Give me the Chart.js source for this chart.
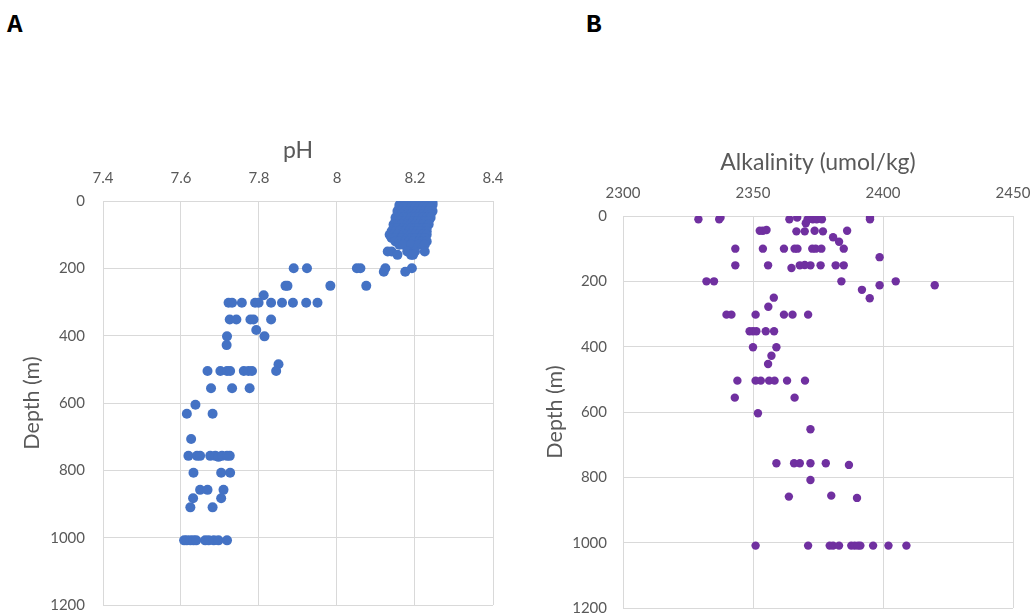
<!DOCTYPE html>
<html>
<head>
<meta charset="utf-8">
<script src="https://cdn.jsdelivr.net/npm/chart.js@4.4.1/dist/chart.umd.min.js"></script>
<style>
  body { margin: 0; background: #fff; width: 1031px; height: 614px; position: relative; overflow: hidden; }
  canvas { position: absolute; top: 0; }
  .tag { position: absolute; font: bold 26px "Liberation Mono", monospace; line-height: 26px; color: #000; }
</style>
</head>
<body>
<div class="tag" style="left:7px; top:12px;">A</div>
<div class="tag" style="left:586px; top:12px;">B</div>
<canvas id="phChart" width="515" height="614" style="left:0"></canvas>
<canvas id="alkChart" width="516" height="614" style="left:515px"></canvas>
<script>
// ===== DATA =====
const phTicks = [7.4, 7.6, 7.8, 8, 8.2, 8.4];
const alkTicks = [2300, 2350, 2400, 2450];
const depthTicks = [0, 200, 400, 600, 800, 1000, 1200];

// [pH, depth m]
const phPoints = [
  [8.165,5],[8.175,5],[8.185,5],[8.195,5],[8.205,5],[8.215,5],[8.225,5],[8.235,5],[8.245,5],
  [8.16,12],[8.17,12],[8.18,12],[8.19,12],[8.2,12],[8.21,12],[8.22,12],[8.23,12],[8.24,12],[8.245,12],
  [8.16,20],[8.17,20],[8.18,20],[8.19,20],[8.2,20],[8.21,20],[8.22,20],[8.23,20],[8.24,20],
  [8.155,30],[8.165,30],[8.175,30],[8.185,30],[8.195,30],[8.205,30],[8.215,30],[8.225,30],[8.235,30],[8.245,30],
  [8.155,40],[8.165,40],[8.18,40],[8.19,40],[8.2,40],[8.21,40],[8.22,40],[8.23,40],[8.24,40],
  [8.15,50],[8.16,50],[8.17,50],[8.18,50],[8.19,50],[8.2,50],[8.21,50],[8.22,50],[8.23,50],[8.24,50],
  [8.15,60],[8.16,60],[8.175,60],[8.185,60],[8.195,60],[8.205,60],[8.215,60],[8.225,60],[8.235,60],
  [8.145,70],[8.155,70],[8.165,70],[8.18,70],[8.19,70],[8.2,70],[8.21,70],[8.22,70],[8.235,70],
  [8.145,80],[8.155,80],[8.17,80],[8.18,80],[8.19,80],[8.2,80],[8.21,80],[8.22,80],[8.23,80],
  [8.14,90],[8.15,90],[8.16,90],[8.175,90],[8.185,90],[8.195,90],[8.205,90],[8.215,90],[8.23,90],
  [8.135,100],[8.145,100],[8.155,100],[8.17,100],[8.18,100],[8.19,100],[8.2,100],[8.21,100],[8.22,100],[8.23,100],
  [8.14,110],[8.15,110],[8.165,110],[8.18,110],[8.19,110],[8.2,110],[8.215,110],[8.225,110],
  [8.15,120],[8.16,120],[8.175,120],[8.185,120],[8.195,120],[8.21,120],[8.22,120],[8.23,120],
  [8.16,130],[8.17,130],[8.19,130],[8.21,130],[8.225,130],
  [8.13,150],[8.14,150],[8.18,150],[8.2,150],[8.225,150],
  [8.155,160],[8.19,160],[8.195,160],
  [7.889,200],[7.923,200],[8.051,200],[8.06,200],[8.124,200],[8.192,200],[8.12,210],[8.175,210],
  [7.868,252],[7.873,252],[7.983,252],[8.075,252],
  [7.812,280],
  [7.722,302],[7.731,302],[7.756,302],[7.79,302],[7.799,302],[7.831,302],[7.859,302],[7.887,302],[7.921,302],[7.95,302],
  [7.725,352],[7.742,352],[7.778,352],[7.786,352],[7.831,352],
  [7.793,383],[7.718,402],[7.814,402],[7.717,428],[7.85,485],
  [7.668,505],[7.701,505],[7.718,505],[7.726,505],[7.761,505],[7.773,505],[7.782,505],[7.844,505],
  [7.677,556],[7.731,556],[7.776,556],
  [7.637,605],[7.615,632],[7.681,632],[7.626,707],
  [7.619,757],[7.641,757],[7.649,757],[7.675,757],[7.688,757],[7.696,760],[7.705,757],[7.718,757],[7.725,757],
  [7.632,807],[7.703,807],[7.726,807],
  [7.649,858],[7.668,858],[7.709,858],
  [7.631,883],[7.703,883],[7.624,910],[7.681,910],
  [7.608,1008],[7.615,1008],[7.624,1008],[7.632,1008],[7.639,1008],[7.662,1008],[7.671,1008],[7.684,1008],[7.696,1008],[7.718,1008]
];

// [alkalinity umol/kg, depth m]
const alkPoints = [
  [2329,10],[2337,10],[2337.5,5],[2364,10],[2367,5],[2371,10],[2372,7],[2373,10],[2374.5,10],[2376.5,10],[2395,5],[2395,10],
  [2370.3,22],
  [2352.6,45],[2353.8,45],[2355.2,43],[2366.7,47],[2369.9,47],[2373.7,45],[2376.9,47],[2386.2,45],
  [2380.8,65],[2383.1,79],
  [2343.2,100],[2353.8,100],[2361.9,100],[2366,100],[2367.1,100],[2372.8,100],[2374.1,100],[2376.3,100],[2384.9,100],
  [2398.7,126],
  [2343.2,151],[2355.8,151],[2368,151],[2369.9,150],[2372.1,151],[2376,151],[2381.8,151],[2384.9,151],
  [2364.8,159],
  [2332.1,200],[2335,200],[2384,200],[2404.9,200],[2398.7,212],[2419.9,212],
  [2391.9,226],[2394.9,252],[2358,250],[2355.9,278],
  [2339.8,302],[2341.7,302],[2351,302],[2361.9,302],[2365.2,302],[2371.2,302],
  [2348.7,353],[2350,353],[2351.3,353],[2354.9,353],[2358.1,353],
  [2350,402],[2359,402],[2357.1,428],[2355.8,453],
  [2344,504],[2351,504],[2353,504],[2356.2,504],[2358.3,504],[2363.1,504],[2370,504],
  [2343,556],[2366,556],[2351.9,604],[2372.1,653],
  [2359,757],[2365.8,757],[2368,757],[2372.1,757],[2378,757],[2386.9,762],
  [2372.1,808],[2380.1,856],[2363.8,859],[2390,863],
  [2351,1009],[2371.2,1009],[2379.5,1009],[2380.8,1009],[2383.1,1009],[2387.8,1009],[2389.1,1009],
  [2390.4,1009],[2391.3,1009],[2396.2,1009],[2402.1,1009],[2409,1009]
];

// ===== STYLE =====
const FONT = 'Lato, "Open Sans", sans-serif';
const TEXT = '#595959';
const GRID = '#d9d9d9';

function depthChart(id, points, color, radius, xTitle, xTicks, xMin, xMax, pad, xHeight, yWidth, tickPad) {
  const ctx = document.getElementById(id);
  if (!ctx) return;
  new Chart(ctx, {
    type: 'scatter',
    data: {
      datasets: [{
        data: points.map(p => ({ x: p[0], y: p[1] })),
        backgroundColor: color,
        borderWidth: 0,
        pointRadius: radius
      }]
    },
    options: {
      responsive: false,
      animation: false,
      devicePixelRatio: 1,
      layout: { padding: pad },
      plugins: { legend: { display: false }, tooltip: { enabled: false } },
      scales: {
        x: {
          type: 'linear', position: 'top', min: xMin, max: xMax,
          afterBuildTicks: s => { s.ticks = xTicks.map(v => ({ value: v })); },
          // fixed box so the plot area lands where the reference has it
          afterFit: s => { s.height = xHeight; s.paddingLeft = 0; s.paddingRight = 0; },
          ticks: { color: TEXT, padding: tickPad.x, font: { family: FONT, size: 15 }, callback: v => String(v) },
          grid: { color: GRID, drawTicks: false },
          border: { color: GRID },
          title: { display: true, text: xTitle, color: TEXT, font: { family: FONT, size: 23 }, padding: { top: 4, bottom: 4 } }
        },
        y: {
          type: 'linear', reverse: true, min: 0, max: 1200,
          afterBuildTicks: s => { s.ticks = depthTicks.map(v => ({ value: v })); },
          afterFit: s => { s.width = yWidth; s.paddingTop = 0; s.paddingBottom = 0; },
          ticks: { color: TEXT, padding: tickPad.y, font: { family: FONT, size: 15 }, callback: v => String(v) },
          grid: { color: GRID, drawTicks: false },
          border: { color: GRID },
          title: { display: true, text: 'Depth (m)', color: TEXT, font: { family: FONT, size: 21.5 }, padding: { top: 4, bottom: 4 } }
        }
      }
    }
  });
}

// ===== PANEL A: pH =====
depthChart('phChart', phPoints, '#4472C4', 5, 'pH', phTicks, 7.4, 8.4,
  { left: 15, right: 22, top: 133, bottom: 9 }, 68, 88, { x: 14, y: 18 });

// ===== PANEL B: ALKALINITY =====
depthChart('alkChart', alkPoints, '#7030A0', 4.2, 'Alkalinity (umol/kg)', alkTicks, 2300, 2450,
  { left: 23, right: 18, top: 145, bottom: 6 }, 71, 85, { x: 14, y: 16 });
</script>
</body>
</html>
